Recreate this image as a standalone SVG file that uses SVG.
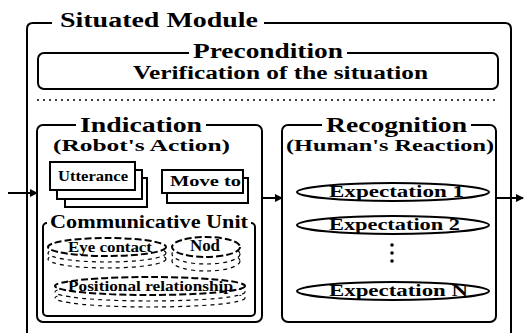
<svg xmlns="http://www.w3.org/2000/svg" width="524" height="333" viewBox="0 0 524 333">
<style>
.box{fill:none;stroke:#000;stroke-width:2}
.wbox{fill:#fff;stroke:#000;stroke-width:2}
.t{font-family:"Liberation Serif","DejaVu Serif",serif;font-weight:bold;fill:#000}
.gap{fill:#fff}
.dash{fill:#fff;stroke:#000;stroke-width:1.2;stroke-dasharray:4 4}
.ell{fill:#fff;stroke:#000;stroke-width:2}
.conn{stroke:#000;stroke-width:2;fill:none}
</style>
<defs>
<marker id="ah" markerWidth="8" markerHeight="8" refX="7" refY="4" orient="auto" markerUnits="userSpaceOnUse">
<path d="M0,0 L8,4 L0,8 Z" fill="#000"/>
</marker>
</defs>
<rect width="524" height="333" fill="#fff"/>

<g id="situated-module">
<path class="box" d="M27,343 V29 Q27,23 33,23 H505 Q511,23 511,29 V343"/>
<rect class="gap" x="52" y="12" width="212" height="18"/>
<text class="t" x="60" y="27" font-size="20" textLength="198" lengthAdjust="spacingAndGlyphs">Situated Module</text>
</g>

<g id="precondition">
<rect class="box" x="38" y="53" width="460" height="36" rx="6"/>
<rect class="gap" x="189" y="44" width="158" height="16"/>
<text class="t" x="193" y="58" font-size="20" textLength="150" lengthAdjust="spacingAndGlyphs">Precondition</text>
<text class="t" x="133" y="79" font-size="18" textLength="295" lengthAdjust="spacingAndGlyphs">Verification of the situation</text>
</g>

<line x1="37" y1="100" x2="498" y2="100" stroke="#000" stroke-width="1.5" stroke-dasharray="2 4"/>

<g id="indication">
<rect class="box" x="37" y="125" width="225" height="197" rx="6"/>
<rect class="gap" x="76" y="116" width="130" height="16"/>
<text class="t" x="80" y="132" font-size="20" textLength="122" lengthAdjust="spacingAndGlyphs">Indication</text>
<text class="t" x="53" y="151" font-size="17" textLength="177" lengthAdjust="spacingAndGlyphs">(Robot's Action)</text>
</g>

<g id="utterance">
<rect class="wbox" x="65" y="178" width="82" height="29"/>
<rect class="wbox" x="57" y="170" width="85" height="29"/>
<rect class="wbox" x="50" y="162" width="85" height="28"/>
<text class="t" x="58" y="181" font-size="14" textLength="70" lengthAdjust="spacingAndGlyphs">Utterance</text>
</g>

<g id="move-to">
<rect class="wbox" x="167" y="178" width="81" height="25"/>
<rect class="wbox" x="162" y="170" width="81" height="23"/>
<text class="t" x="170" y="186" font-size="15" textLength="71" lengthAdjust="spacingAndGlyphs">Move to</text>
</g>

<g id="communicative-unit">
<rect class="box" x="43" y="223" width="212" height="93" rx="4"/>
<rect class="gap" x="47" y="214" width="204" height="16"/>
<text class="t" x="50" y="228" font-size="19" textLength="198" lengthAdjust="spacingAndGlyphs">Communicative Unit</text>
</g>

<g id="eye-contact">
<ellipse class="dash" cx="107" cy="259" rx="59" ry="9"/>
<ellipse class="dash" cx="107" cy="253" rx="59" ry="9"/>
<ellipse class="ell" cx="107" cy="247" rx="59" ry="9" stroke-dasharray="7 3"/>
<text class="t" x="68" y="252" font-size="15" textLength="84" lengthAdjust="spacingAndGlyphs">Eye contact</text>
</g>

<g id="nod">
<ellipse class="dash" cx="206" cy="261" rx="34" ry="10"/>
<ellipse class="dash" cx="206" cy="254" rx="34" ry="10"/>
<ellipse class="ell" cx="206" cy="247" rx="34" ry="10" stroke-dasharray="7 3"/>
<text class="t" x="190" y="251" font-size="16" textLength="30" lengthAdjust="spacingAndGlyphs">Nod</text>
</g>

<g id="positional-relationship">
<ellipse class="dash" cx="150" cy="298" rx="95" ry="9"/>
<ellipse class="dash" cx="150" cy="292" rx="95" ry="9"/>
<ellipse class="ell" cx="150" cy="286" rx="95" ry="9" stroke-dasharray="7 3"/>
<text class="t" x="68" y="291" font-size="15" textLength="165" lengthAdjust="spacingAndGlyphs">Positional relationship</text>
</g>

<g id="recognition">
<rect class="box" x="282" y="125" width="214" height="197" rx="6"/>
<rect class="gap" x="322" y="116" width="149" height="16"/>
<text class="t" x="326" y="132" font-size="20" textLength="141" lengthAdjust="spacingAndGlyphs">Recognition</text>
<text class="t" x="286" y="151" font-size="17" textLength="208" lengthAdjust="spacingAndGlyphs">(Human's Reaction)</text>
</g>

<g id="expectation-1">
<ellipse class="ell" cx="393" cy="192" rx="96" ry="9"/>
<text class="t" x="329" y="197" font-size="17" textLength="135" lengthAdjust="spacingAndGlyphs">Expectation 1</text>
</g>

<g id="expectation-2">
<ellipse class="ell" cx="393" cy="225" rx="96" ry="9"/>
<text class="t" x="329" y="230" font-size="17" textLength="131" lengthAdjust="spacingAndGlyphs">Expectation 2</text>
</g>

<g id="ellipsis">
<circle cx="392" cy="245" r="1.8"/>
<circle cx="392" cy="253" r="1.8"/>
<circle cx="392" cy="261" r="1.8"/>
</g>

<g id="expectation-n">
<ellipse class="ell" cx="393" cy="291" rx="96" ry="9"/>
<text class="t" x="329" y="296" font-size="17" textLength="139" lengthAdjust="spacingAndGlyphs">Expectation N</text>
</g>

<g id="connectors">
<line class="conn" x1="8" y1="193" x2="37" y2="193" marker-end="url(#ah)"/>
<line class="conn" x1="262" y1="198" x2="282" y2="198" marker-end="url(#ah)"/>
<line class="conn" x1="496" y1="198" x2="523" y2="198" stroke-width="1.5" marker-end="url(#ah)"/>
</g>
</svg>
